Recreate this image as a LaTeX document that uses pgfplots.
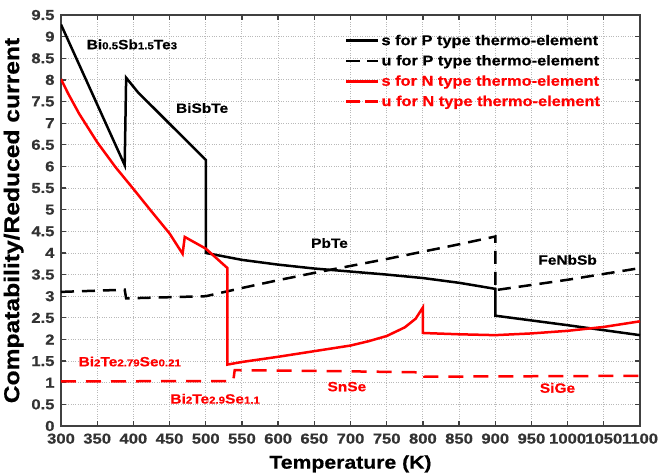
\documentclass[border=0pt]{standalone}
\usepackage{pgfplots}
\pgfplotsset{compat=1.18}
\usepackage{fontspec}
\setmainfont{Liberation Sans}[BoldFont={Liberation Sans Bold},
  BoldFeatures={FakeStretch=1.15, FakeBold=0.6}]
\newcommand{\sub}[1]{{\fontsize{10}{10}\selectfont #1}}
\begin{document}
\begin{tikzpicture}
\begin{axis}[
    scale only axis,
    width=579bp, height=411bp,
    xmin=300, xmax=1100,
    ymin=0, ymax=9.5,
    xtick={300,350,...,1100},
    ytick={0,0.5,...,9.5},
    ticklabel style={font=\fontsize{14.5}{16}\selectfont\bfseries, color=black!80},
    xticklabel style={yshift=-4bp},
    yticklabel style={xshift=-3bp},
    /pgf/number format/assume math mode=true,
    /pgf/number format/1000 sep={},
    xlabel={Temperature (K)},
    ylabel={Compatability/Reduced current},
    xlabel style={font=\fontsize{18.5}{20}\selectfont\bfseries, inner sep=0pt, yshift=-8bp},
    ylabel style={font=\fontsize{21.5}{23}\selectfont\bfseries, yshift=1bp},
    grid=major,
    major grid style={dotted, gray!55, line width=0.9pt},
    axis line style={black!75, line width=1.6bp},
    tick style={black!75, line width=1.3bp},
    major tick length=5bp,
    tick align=inside,
    legend cell align=left,
    legend style={draw=none, fill=none, at={(0.485,0.962)}, anchor=north west,
        font=\fontsize{14.3}{16}\selectfont\bfseries, row sep=4.5bp},
    legend image code/.code={\draw[#1] (0bp,0bp) -- (32bp,0bp);},
]
% s for P type
\addplot[black, line width=2.5bp] coordinates {
(300,9.28)(388,6.03)(390,8.05)(406,7.72)(500,6.15)(500,4.0)
(550,3.84)(600,3.73)(650,3.64)(700,3.57)(750,3.5)(800,3.42)(850,3.31)(900,3.17)
(900,2.55)(1000,2.33)(1100,2.1)
};
\addlegendentry{s for P type thermo-element}
% u for P type
\addplot[black, line width=2.5bp, dash pattern=on 13bp off 8bp, forget plot] coordinates {
(300,3.1)(388,3.15)(390,2.95)(500,3.0)(550,3.19)(600,3.37)(650,3.54)(700,3.7)
(750,3.86)(800,4.03)(850,4.2)(900,4.38)(900,3.14)(1000,3.38)(1100,3.65)
};
\addlegendimage{black, line width=2.5bp, dash pattern=on 14bp off 7bp}
\addlegendentry{u for P type thermo-element}
% s for N type
\addplot[red, line width=2.5bp] coordinates {
(300,8.02)(310,7.68)(325,7.22)(350,6.56)(375,5.99)(400,5.48)(425,4.96)(450,4.45)(468,3.98)
(471,4.37)(500,4.1)(530,3.65)(530,1.42)(550,1.48)(600,1.6)(650,1.73)(700,1.86)
(725,1.96)(750,2.08)(775,2.28)(790,2.48)(800,2.74)(800,2.15)(850,2.12)(900,2.1)
(950,2.14)(1000,2.2)(1050,2.29)(1100,2.42)
};
\addlegendentry{\textcolor{red}{s for N type thermo-element}}
% u for N type
\addplot[red, line width=2.5bp, dash pattern=on 15bp off 10bp, forget plot] coordinates {
(300,1.03)(538,1.04)(540,1.29)(670,1.27)(800,1.24)(802,1.14)(950,1.15)(1100,1.16)
};
\addlegendimage{red, line width=2.5bp, dash pattern=on 14bp off 5bp}
\addlegendentry{\textcolor{red}{u for N type thermo-element}}

\node[font=\fontsize{13.5}{15}\selectfont\bfseries] at (axis cs:398,8.82) {Bi\sub{0.5}Sb\sub{1.5}Te\sub{3}};
\node[font=\fontsize{13.5}{15}\selectfont\bfseries] at (axis cs:495,7.35) {BiSbTe};
\node[font=\fontsize{13.5}{15}\selectfont\bfseries] at (axis cs:671,4.23) {PbTe};
\node[font=\fontsize{13.5}{15}\selectfont\bfseries] at (axis cs:1000,3.84) {FeNbSb};
\node[red, font=\fontsize{13.5}{15}\selectfont\bfseries] at (axis cs:395,1.49) {Bi\sub{2}Te\sub{2.79}Se\sub{0.21}};
\node[red, font=\fontsize{13.5}{15}\selectfont\bfseries] at (axis cs:513,0.63) {Bi\sub{2}Te\sub{2.9}Se\sub{1.1}};
\node[red, font=\fontsize{13.5}{15}\selectfont\bfseries] at (axis cs:695,0.91) {SnSe};
\node[red, font=\fontsize{13.5}{15}\selectfont\bfseries] at (axis cs:986,0.88) {SiGe};

\coordinate (ll) at (rel axis cs:0,0);
\coordinate (ur) at (rel axis cs:1,1);
\end{axis}
\pgfresetboundingbox
\path ([shift={(-61bp,-49bp)}]ll) rectangle ([shift={(19bp,15bp)}]ur);
\end{tikzpicture}
\end{document}
